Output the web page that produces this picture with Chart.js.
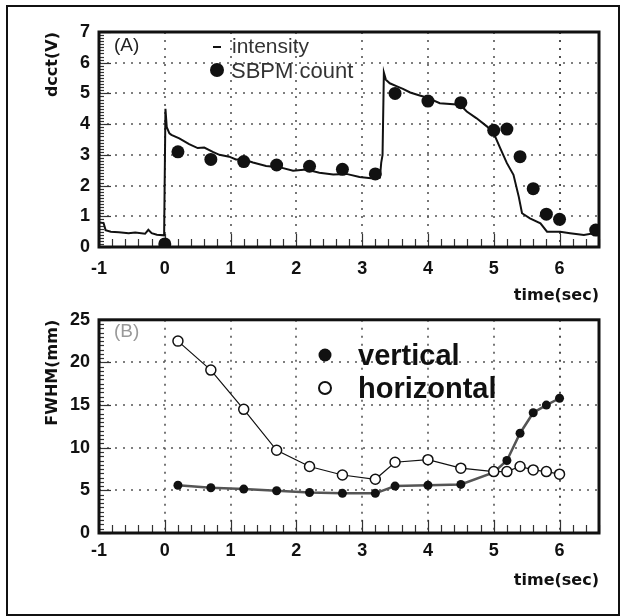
<!DOCTYPE html>
<html><head><meta charset="utf-8">
<script src="https://cdn.jsdelivr.net/npm/chart.js@4/dist/chart.umd.min.js"></script>
<style>
html,body{margin:0;padding:0;background:#fff;}
body{width:625px;height:616px;position:relative;overflow:hidden;}
#frame{position:absolute;left:6px;top:5px;width:614px;height:611px;border:2px solid #111;box-sizing:border-box;}
canvas{position:absolute;left:0;}
</style></head><body>
<div id="frame"></div>
<canvas id="a" width="625" height="306" style="top:0"></canvas>
<canvas id="b" width="625" height="290" style="top:300px"></canvas>
<script>
// ---- data ----
const xTicks = [-1, 0, 1, 2, 3, 4, 5, 6];
const yTicksA = [0, 1, 2, 3, 4, 5, 6, 7];
const yTicksB = [0, 5, 10, 15, 20, 25];

const intensityX = [-1.0,-0.93,-0.9,-0.82,-0.7,-0.55,-0.45,-0.3,-0.25,-0.2,-0.12,-0.01,0.01,0.03,0.07,0.1,0.22,0.37,0.5,0.6,0.73,0.83,0.98,1.08,1.2,1.34,1.54,1.74,1.95,2.15,2.35,2.56,2.76,2.96,3.17,3.27,3.29,3.31,3.33,3.36,3.42,3.52,3.62,3.73,3.85,3.98,4.18,4.49,4.59,4.74,4.9,5.0,5.1,5.2,5.3,5.38,5.43,5.55,5.71,5.81,6.01,6.16,6.37,6.52,6.6];
const intensityY = [0.8,0.78,0.55,0.5,0.48,0.45,0.47,0.43,0.56,0.45,0.4,0.38,4.5,3.9,3.7,3.65,3.54,3.35,3.22,3.24,3.1,3.0,2.94,2.85,2.85,2.75,2.64,2.6,2.48,2.52,2.42,2.36,2.38,2.28,2.23,2.26,2.75,3.0,5.68,5.45,5.33,5.24,5.15,5.03,4.95,4.87,4.68,4.63,4.41,4.19,3.92,3.7,3.21,2.73,2.35,1.64,1.1,0.93,0.77,0.5,0.5,0.45,0.39,0.45,0.4];

const sbpmX = [0.0,0.2,0.7,1.2,1.7,2.2,2.7,3.2,3.5,4.0,4.5,5.0,5.2,5.4,5.6,5.8,6.0,6.55];
const sbpmY = [0.1,3.1,2.85,2.78,2.67,2.63,2.53,2.38,5.0,4.75,4.7,3.8,3.84,2.94,1.9,1.07,0.9,0.55];

const fwhmX = [0.2,0.7,1.2,1.7,2.2,2.7,3.2,3.5,4.0,4.5,5.0,5.2,5.4,5.6,5.8,6.0];
const verticalY = [5.6,5.3,5.15,4.95,4.75,4.65,4.65,5.5,5.6,5.7,7.1,8.5,11.7,14.1,15.0,15.8];
const horizontalY = [22.5,19.1,14.5,9.7,7.8,6.8,6.3,8.3,8.6,7.6,7.2,7.2,7.8,7.4,7.2,6.9];

const pts = (xs, ys) => xs.map((x, i) => ({x, y: ys[i]}));

// ---- decoration plugin: dotted grid, frame, minor ticks, in-plot legend ----
const decor = {
  id: 'decor',
  beforeDatasetsDraw(chart, args, o) {
    const {ctx, chartArea: a, scales: {x, y}} = chart;
    ctx.save();
    ctx.lineWidth = 1.6;
    ctx.setLineDash([2, 6]);
    x.ticks.forEach(t => {
      const px = Math.round(x.getPixelForValue(t.value));
      ctx.strokeStyle = t.value === 6 ? '#222' : '#555';
      ctx.beginPath(); ctx.moveTo(px, a.top); ctx.lineTo(px, a.bottom); ctx.stroke();
    });
    ctx.strokeStyle = '#555';
    y.ticks.forEach(t => {
      const py = Math.round(y.getPixelForValue(t.value));
      ctx.beginPath(); ctx.moveTo(a.left, py); ctx.lineTo(a.right, py); ctx.stroke();
    });
    ctx.setLineDash([]);
    ctx.strokeStyle = '#333';
    ctx.lineWidth = 1.2;
    const n0 = Math.ceil(x.min / o.xMinor - 1e-9), n1 = Math.floor(x.max / o.xMinor + 1e-9);
    for (let n = n0; n <= n1; n++) {
      const v = n * o.xMinor, px = Math.round(x.getPixelForValue(v)) + 0.5;
      const major = Math.abs(v - Math.round(v)) < 1e-6;
      ctx.beginPath(); ctx.moveTo(px, a.bottom); ctx.lineTo(px, a.bottom - (major ? 13 : 8)); ctx.stroke();
    }
    const m0 = Math.ceil(y.min / o.yMinor - 1e-9), m1 = Math.floor(y.max / o.yMinor + 1e-9);
    for (let n = m0; n <= m1; n++) {
      const v = n * o.yMinor, py = Math.round(y.getPixelForValue(v)) + 0.5;
      const major = Math.abs(v / o.yMajor - Math.round(v / o.yMajor)) < 1e-6;
      ctx.beginPath(); ctx.moveTo(a.left, py); ctx.lineTo(a.left + (major ? 12 : 5), py); ctx.stroke();
    }
    ctx.restore();
  },
  afterDatasetsDraw(chart, args, o) {
    const {ctx, chartArea: a} = chart;
    ctx.save();
    ctx.strokeStyle = '#111';
    ctx.lineWidth = 3;
    ctx.strokeRect(a.left, a.top, a.width, a.height);
    ctx.textBaseline = 'alphabetic';
    ctx.textAlign = 'left';
    (o.items || []).forEach(it => {
      if (it.marker === 'dash') {
        ctx.strokeStyle = '#111'; ctx.lineWidth = 2;
        ctx.beginPath(); ctx.moveTo(it.mx - 4, it.my); ctx.lineTo(it.mx + 4, it.my); ctx.stroke();
      } else if (it.marker === 'dot') {
        ctx.fillStyle = '#111';
        ctx.beginPath(); ctx.arc(it.mx, it.my, it.mr, 0, Math.PI * 2); ctx.fill();
      } else if (it.marker === 'ring') {
        ctx.fillStyle = '#fff'; ctx.strokeStyle = '#111'; ctx.lineWidth = 2;
        ctx.beginPath(); ctx.arc(it.mx, it.my, it.mr, 0, Math.PI * 2); ctx.fill(); ctx.stroke();
      }
      ctx.fillStyle = it.color || '#111';
      ctx.font = it.font;
      ctx.fillText(it.text, it.tx, it.ty);
    });
    ctx.restore();
  }
};

const tickFont = {family: "'Liberation Sans', Arial, sans-serif", weight: 'bold', size: 18};
const titleFont = {family: "'DejaVu Sans', sans-serif", weight: 'bold', size: 16};

function makeScales(yTicks, yMax, yTitle, xPad) {
  return {
    x: {
      type: 'linear', min: -1, max: 6.6,
      afterBuildTicks: s => { s.ticks = xTicks.map(v => ({value: v})); },
      afterFit: s => { s.height = xPad.h; },
      grid: {display: false, drawTicks: false},
      border: {display: false},
      ticks: {font: tickFont, color: '#111', padding: xPad.p, maxRotation: 0, callback: v => String(v)},
      title: {display: true, text: 'time(sec)', align: 'end', color: '#111', font: titleFont, padding: {top: 0, bottom: xPad.tb}}
    },
    y: {
      type: 'linear', min: 0, max: yMax,
      afterBuildTicks: s => { s.ticks = yTicks.map(v => ({value: v})); },
      afterFit: s => { s.width = 99; },
      grid: {display: false, drawTicks: false},
      border: {display: false},
      ticks: {font: tickFont, color: '#111', padding: 9, callback: v => String(v)},
      title: {display: true, text: yTitle, align: 'end', color: '#111', font: titleFont, padding: {top: 43, bottom: 0}}
    }
  };
}

const labelFont = "19px 'Liberation Sans', Arial, sans-serif";

new Chart(document.getElementById('a'), {
  type: 'scatter',
  data: {
    datasets: [
      {label: 'SBPM count', data: pts(sbpmX, sbpmY), showLine: false, pointRadius: 6.5, pointBackgroundColor: '#111', pointBorderWidth: 0},
      {label: 'intensity', data: pts(intensityX, intensityY), showLine: true, borderColor: '#111', borderWidth: 2, pointRadius: 0, tension: 0}
    ]
  },
  options: {
    responsive: false, animation: false,
    layout: {padding: {left: 0, right: 26, top: 32, bottom: 0}},
    scales: makeScales(yTicksA, 7, 'dcct(V)', {h: 59, p: 11, tb: 1}),
    plugins: {
      legend: {display: false}, tooltip: {enabled: false},
      decor: {
        xMinor: 0.2, yMinor: 0.1, yMajor: 1,
        items: [
          {text: '(A)', tx: 114, ty: 51, font: labelFont, color: '#222'},
          {marker: 'dash', mx: 217, my: 47, text: 'intensity', tx: 232, ty: 53, font: "21px 'Liberation Sans', Arial, sans-serif", color: '#333'},
          {marker: 'dot', mx: 217, my: 70, mr: 7, text: 'SBPM count', tx: 231, ty: 78, font: "22px 'Liberation Sans', Arial, sans-serif", color: '#333'}
        ]
      }
    }
  },
  plugins: [decor]
});

new Chart(document.getElementById('b'), {
  type: 'scatter',
  data: {
    datasets: [
      {label: 'horizontal', data: pts(fwhmX, horizontalY), showLine: true, borderColor: '#111', borderWidth: 1.2, pointRadius: 5, pointBackgroundColor: '#fff', pointBorderColor: '#111', pointBorderWidth: 1.5, tension: 0},
      {label: 'vertical', data: pts(fwhmX, verticalY), showLine: true, borderColor: '#555', borderWidth: 2.5, pointRadius: 4.5, pointBackgroundColor: '#111', pointBorderColor: '#111', pointBorderWidth: 0, tension: 0}
    ]
  },
  options: {
    responsive: false, animation: false,
    layout: {padding: {left: 0, right: 26, top: 19, bottom: 0}},
    scales: makeScales(yTicksB, 25, 'FWHM(mm)', {h: 57, p: 7, tb: 0}),
    plugins: {
      legend: {display: false}, tooltip: {enabled: false},
      decor: {
        xMinor: 0.2, yMinor: 0.5, yMajor: 5,
        items: [
          {text: '(B)', tx: 114, ty: 37, font: labelFont, color: '#999'},
          {marker: 'dot', mx: 325, my: 55, mr: 6.5, text: 'vertical', tx: 358, ty: 65, font: "bold 29px 'Liberation Sans', Arial, sans-serif", color: '#111'},
          {marker: 'ring', mx: 325, my: 88, mr: 6, text: 'horizontal', tx: 358, ty: 98, font: "bold 29px 'Liberation Sans', Arial, sans-serif", color: '#111'}
        ]
      }
    }
  },
  plugins: [decor]
});
</script>
</body></html>
